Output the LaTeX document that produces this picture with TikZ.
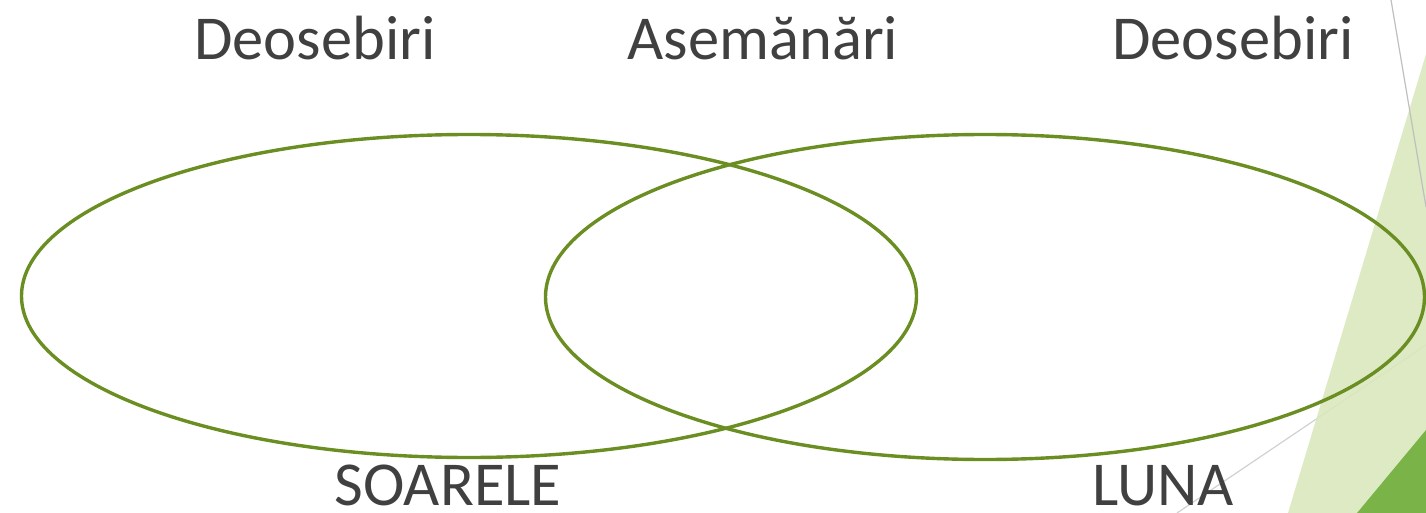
\documentclass[tikz,border=0pt]{standalone}
\usepackage{fontspec}
\usetikzlibrary{shapes.geometric}
\setmainfont{Carlito}
\definecolor{ringgreen}{RGB}{106,142,34}
\definecolor{lightgreen}{RGB}{217,232,190}
\definecolor{darkgreen}{RGB}{122,180,72}
\definecolor{txtgray}{RGB}{64,64,64}
\tikzset{
  ring/.style={draw=ringgreen, line width=3.4pt, ellipse, inner sep=0pt},
  lbl/.style={text=txtgray, font=\fontsize{62.5}{62.5}\selectfont, anchor=base, inner sep=0pt, text depth=0pt},
  deco/.style={draw=black!25, line width=1.2pt}
}
\begin{document}
\begin{tikzpicture}[x=1pt,y=-1pt]
\useasboundingbox (0,0) rectangle (1426,513);
\clip (0,0) rectangle (1426,513);
% decorations
\coordinate (g2a) at (1177,513);
\coordinate (g2b) at (1426,345);
\draw[draw=black!18, line width=1.2pt] (g2a) -- (g2b);
\fill[lightgreen, opacity=0.9] (1288,513) -- (1426,54) -- (1426,513) -- cycle;
\fill[darkgreen] (1357,513) -- (1426,430) -- (1426,513) -- cycle;
\coordinate (g1a) at (1391,0);
\coordinate (g1b) at (1426,207);
\draw[deco] (g1a) -- (g1b);
% rings
\node[ring, minimum width=895pt, minimum height=323pt] (sun) at (469,296) {};
\node[ring, minimum width=879pt, minimum height=325pt] (moon) at (985,297) {};
% labels
\node[lbl] (d1) at (315,60) {Deosebiri};
\node[lbl] (as) at (763,60) {Asemănări};
\node[lbl] (d2) at (1233,60) {Deosebiri};
\node[lbl] (so) at (448,505) {SOARELE};
\node[lbl] (lu) at (1163,505) {LUNA};
\end{tikzpicture}
\end{document}
